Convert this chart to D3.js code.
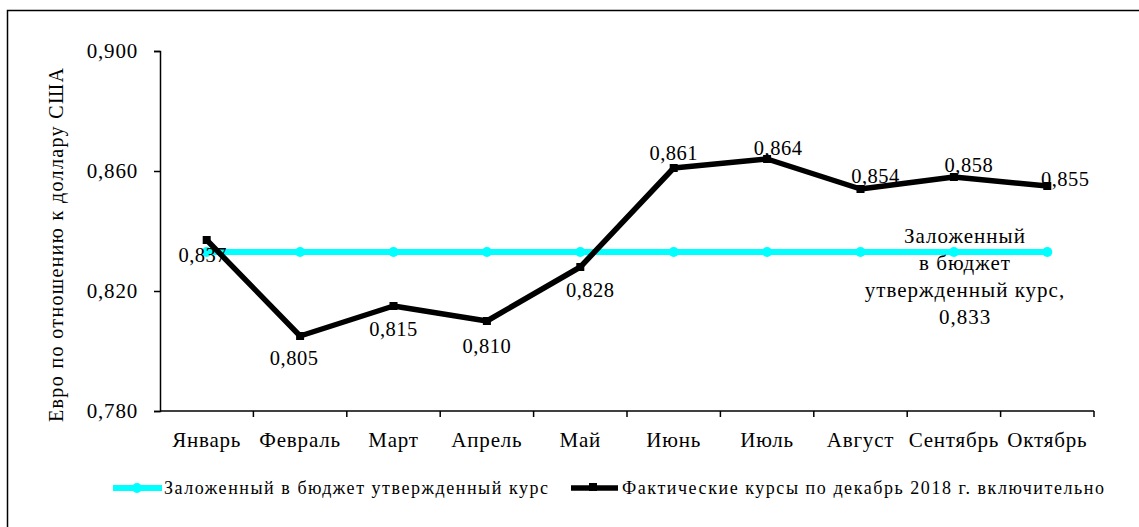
<!DOCTYPE html>
<html>
<head>
<meta charset="utf-8">
<script src="https://cdn.jsdelivr.net/npm/d3@7"></script>
<style>
  body { margin: 0; background: #fff; }
</style>
</head>
<body>
<div id="chart"></div>
<script>
const months = ["Январь", "Февраль", "Март", "Апрель", "Май", "Июнь", "Июль", "Август", "Сентябрь", "Октябрь"];
const actual = [0.837, 0.805, 0.815, 0.810, 0.828, 0.861, 0.864, 0.854, 0.858, 0.855];
const budget = 0.833;
const yTicks = [0.78, 0.82, 0.86, 0.9];
const seriesNames = ["Заложенный в бюджет утвержденный курс", "Фактические  курсы по декабрь 2018 г. включительно"];
const budgetNote = ["Заложенный", "в бюджет", "утвержденный курс,", "0,833"];

// label offsets relative to each point (dx, dy)
const labelOffsets = [[-4, 15], [-6, 22], [0, 23], [0, 25], [10, 23], [0, -15], [11, -11], [15, -13], [15, -12], [18, -7]];

const W = 1139, H = 527;
const margin = { top: 51, left: 160 };
const serif = "'Liberation Serif'";
const cyan = "#00ffff";

const svg = d3.select("#chart").append("svg")
  .attr("width", W)
  .attr("height", H);

// outer frame
svg.append("rect")
  .attr("x", 7.5).attr("y", 10.5)
  .attr("width", 1140).attr("height", 530)
  .attr("fill", "none")
  .attr("stroke", "#000")
  .attr("stroke-width", 1.5);

const x = d3.scaleBand().domain(months).range([margin.left, 1094]);
const y = d3.scaleLinear().domain([0.78, 0.9]).range([411, margin.top]);
const fmt = v => d3.format(".3f")(v).replace(".", ",");

// y axis
const yAxis = svg.append("g")
  .attr("transform", `translate(${margin.left},0)`)
  .call(d3.axisLeft(y).tickValues(yTicks).tickSize(6).tickPadding(16).tickFormat(fmt));
yAxis.select(".domain").attr("stroke-width", 1.5);
yAxis.selectAll(".tick line").attr("stroke-width", 1.5);
yAxis.selectAll("text").attr("font-size", 21).attr("letter-spacing", 0.8);

// x axis
const xAxis = svg.append("g")
  .attr("transform", `translate(0,${y(0.78)})`)
  .call(d3.axisBottom(x).tickSize(0).tickPadding(21));
xAxis.select(".domain").attr("stroke-width", 1.5).attr("d", `M${margin.left},0H1094`);
xAxis.selectAll("text").attr("font-size", 21).attr("letter-spacing", 0.8);
// tick marks at band boundaries
svg.append("g").selectAll("line")
  .data(months)
  .join("line")
  .attr("x1", d => x(d) + x.bandwidth())
  .attr("x2", d => x(d) + x.bandwidth())
  .attr("y1", y(0.78))
  .attr("y2", y(0.78) + 6)
  .attr("stroke", "#000")
  .attr("stroke-width", 1.5);

// y title
svg.append("text")
  .attr("transform", `translate(63,245) rotate(-90)`)
  .attr("text-anchor", "middle")
  .attr("font-size", 20)
  .attr("textLength", 354)
  .attr("lengthAdjust", "spacing")
  .text("Евро по отношению к доллару США");

const cx = d => x(d) + x.bandwidth() / 2;

// budget line
svg.append("path")
  .datum(months)
  .attr("fill", "none")
  .attr("stroke", cyan)
  .attr("stroke-width", 6)
  .attr("d", d3.line().x(cx).y(() => y(budget)));
svg.append("g").selectAll("circle")
  .data(months)
  .join("circle")
  .attr("cx", cx)
  .attr("cy", y(budget))
  .attr("r", 5)
  .attr("fill", cyan);

// actual line
const pts = months.map((m, i) => ({ m, v: actual[i], i }));
svg.append("path")
  .datum(pts)
  .attr("fill", "none")
  .attr("stroke", "#000")
  .attr("stroke-width", 5.5)
  .attr("stroke-linejoin", "round")
  .attr("d", d3.line().x(d => cx(d.m)).y(d => y(d.v)));
svg.append("g").selectAll("rect")
  .data(pts)
  .join("rect")
  .attr("x", d => cx(d.m) - 4)
  .attr("y", d => y(d.v) - 4)
  .attr("width", 8)
  .attr("height", 8)
  .attr("fill", "#000");

// data labels
svg.append("g").selectAll("text")
  .data(pts)
  .join("text")
  .attr("x", d => cx(d.m) + labelOffsets[d.i][0])
  .attr("y", d => y(d.v) + labelOffsets[d.i][1])
  .attr("dy", "0.35em")
  .attr("text-anchor", "middle")
  .attr("font-size", 20.5)
  .attr("letter-spacing", 0.5)
  .text(d => fmt(d.v));

// budget annotation, one text per line
svg.append("g").selectAll("text")
  .data(budgetNote)
  .join("text")
  .attr("x", 965)
  .attr("y", (d, i) => 243 + i * 27)
  .attr("text-anchor", "middle")
  .attr("font-size", 21)
  .attr("letter-spacing", 1)
  .text(d => d);

// legend
const legend = svg.append("g").attr("transform", "translate(0,488)");
legend.append("line").attr("x1", 113).attr("x2", 162).attr("stroke", cyan).attr("stroke-width", 6);
legend.append("circle").attr("cx", 137).attr("r", 5).attr("fill", cyan);
legend.append("text").attr("x", 164).attr("dy", "0.33em").attr("font-size", 18)
  .attr("textLength", 384).attr("lengthAdjust", "spacing").text(seriesNames[0]);
legend.append("line").attr("x1", 571).attr("x2", 618).attr("stroke", "#000").attr("stroke-width", 5.5);
legend.append("rect").attr("x", 589).attr("y", -5).attr("width", 8).attr("height", 8).attr("fill", "#000");
legend.append("text").attr("x", 622).attr("dy", "0.33em").attr("font-size", 18)
  .attr("textLength", 482).attr("lengthAdjust", "spacing").text(seriesNames[1]);

// every text in Times-like serif, set directly on each element
svg.selectAll("g").attr("font-family", null);
svg.selectAll("text").each(function () {
  this.style.fontFamily = serif;
  this.setAttribute("fill", "#000");
});
</script>
</body>
</html>
